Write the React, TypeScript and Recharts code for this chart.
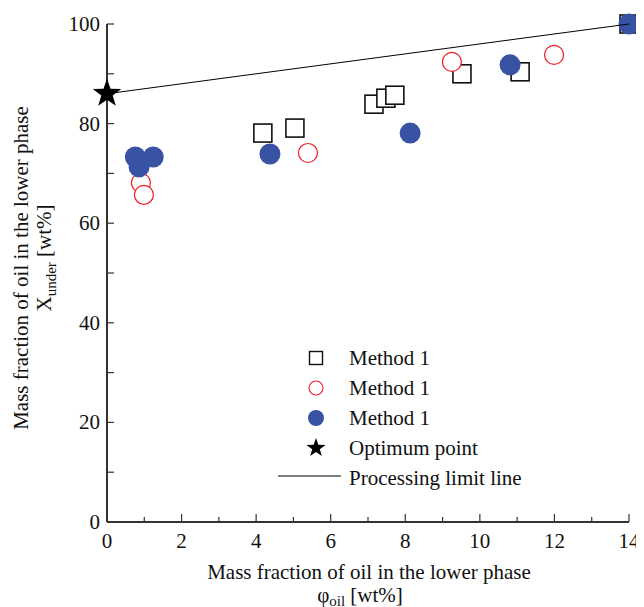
import React from 'react';
import { ScatterChart, Scatter, XAxis, YAxis } from 'recharts';

// measured points, x = oil fraction in feed, y = oil fraction in lower phase
const squareX = [4.18, 5.04, 7.16, 7.48, 7.72, 9.52, 11.08, 14];
const squareY = [78.1, 79.1, 83.9, 85.1, 85.7, 90.0, 90.4, 100];

const openCircleX = [0.91, 0.99, 5.39, 9.25, 11.99];
const openCircleY = [68.1, 65.7, 74.1, 92.4, 93.8];

const filledCircleX = [0.76, 0.86, 1.24, 4.37, 8.13, 10.81, 14];
const filledCircleY = [73.3, 71.3, 73.3, 73.9, 78.1, 91.8, 100];

const optimumX = [0];
const optimumY = [86];

const limitLineX = [0, 14];
const limitLineY = [86, 100];

const xTicks = [0, 1, 2, 3, 4, 5, 6, 7, 8, 9, 10, 11, 12, 13, 14];
const yTicks = [0, 10, 20, 30, 40, 50, 60, 70, 80, 90, 100];

const legendLabels = ['Method 1', 'Method 1', 'Method 1', 'Optimum point', 'Processing limit line'];

const toPoints = (xs: number[], ys: number[]) => xs.map((x, i) => ({ x, y: ys[i] }));

const FONT = '"Liberation Serif", "Times New Roman", serif';
const BLUE = '#3953a4';
const RED = '#ee1c25';
const AXIS = '#333';
const textStyle = { fontFamily: FONT };

const W = 636;
const H = 599;

const starPath = (cx: number, cy: number, outer: number, inner: number) => {
  const pts: string[] = [];
  for (let i = 0; i < 10; i++) {
    const r = i % 2 === 0 ? outer : inner;
    const a = -Math.PI / 2 + (i * Math.PI) / 5;
    pts.push(`${cx + r * Math.cos(a)},${cy + r * Math.sin(a)}`);
  }
  return `M${pts.join('L')}Z`;
};

const SquareShape = (props: any) => (
  <rect x={props.cx - 9} y={props.cy - 9} width={18} height={18} fill="#fff" stroke="#111" strokeWidth={1.6} />
);
const OpenCircleShape = (props: any) => (
  <circle cx={props.cx} cy={props.cy} r={9.5} fill="#fff" stroke={RED} strokeWidth={1.2} />
);
const FilledCircleShape = (props: any) => (
  <circle cx={props.cx} cy={props.cy} r={10.5} fill={BLUE} />
);
const StarShape = (props: any) => (
  <path d={starPath(props.cx, props.cy, 15, 6)} fill="#000" />
);
const NoShape = () => <g />;

// bottom ticks point inward, only even values get a label
const BottomTick = (props: any) => {
  const { x, y, payload } = props;
  const major = payload.value % 2 === 0;
  return (
    <g>
      <line x1={x} y1={y} x2={x} y2={y - (major ? 8 : 5)} stroke={AXIS} strokeWidth={1.2} />
      {major && (
        <text x={x} y={y + 26} textAnchor="middle" style={textStyle} fontFamily={FONT} fontSize={21} fill="#111">
          {payload.value}
        </text>
      )}
    </g>
  );
};

const LeftTick = (props: any) => {
  const { x, y, payload } = props;
  const major = payload.value % 20 === 0;
  return (
    <g>
      <line x1={x} y1={y} x2={x + 7} y2={y} stroke={AXIS} strokeWidth={1.2} />
      {major && (
        <text x={x - 7} y={y + 7} textAnchor="end" style={textStyle} fontFamily={FONT} fontSize={21} fill="#111">
          {payload.value}
        </text>
      )}
    </g>
  );
};

const TopTick = (props: any) => (
  <line x1={props.x} y1={props.y} x2={props.x} y2={props.y + 2} stroke={AXIS} strokeWidth={1} />
);
const RightTick = (props: any) => (
  <line x1={props.x} y1={props.y} x2={props.x - 2} y2={props.y} stroke={AXIS} strokeWidth={1} />
);

// legend drawn in chart pixel space
const LegendBox = () => {
  const rowY = (i: number) => 350 + i * 30;
  const sx = 308;
  return (
    <g>
      <rect x={sx - 6.5} y={rowY(0) - 6.5} width={13} height={13} fill="#fff" stroke="#111" strokeWidth={1.4} />
      <circle cx={sx} cy={rowY(1)} r={7} fill="#fff" stroke={RED} strokeWidth={1.1} />
      <circle cx={sx} cy={rowY(2)} r={8} fill={BLUE} />
      <path d={starPath(sx, rowY(3), 10, 4)} fill="#000" />
      <line x1={270} y1={rowY(4) - 2} x2={333} y2={rowY(4) - 2} stroke="#000" strokeWidth={1} />
      {legendLabels.map((label, i) => (
        <text key={i} x={341} y={rowY(i) + 7} style={textStyle} fontFamily={FONT} fontSize={21} fill="#111">
          {label}
        </text>
      ))}
    </g>
  );
};

export default function App() {
  return (
    <div style={{ position: 'relative', width: W, height: H, fontFamily: FONT }}>
      <ScatterChart width={W} height={H} margin={{ top: 16, right: 15, bottom: 0, left: 0 }}>
        <XAxis
          dataKey="x"
          type="number"
          domain={[0, 14]}
          ticks={xTicks}
          interval={0}
          height={85}
          tickLine={false}
          tickSize={0}
          tickMargin={0}
          tick={<BottomTick />}
          axisLine={{ stroke: AXIS, strokeWidth: 2 }}
        />
        <XAxis
          xAxisId="top"
          orientation="top"
          dataKey="x"
          type="number"
          domain={[0, 14]}
          ticks={xTicks}
          interval={0}
          height={0}
          tickLine={false}
          tickSize={0}
          tickMargin={0}
          tick={<TopTick />}
          axisLine={{ stroke: '#000', strokeWidth: 1.5 }}
        />
        <YAxis
          dataKey="y"
          type="number"
          domain={[0, 100]}
          ticks={yTicks}
          interval={0}
          width={99}
          tickLine={false}
          tickSize={0}
          tickMargin={0}
          tick={<LeftTick />}
          axisLine={{ stroke: AXIS, strokeWidth: 2 }}
        />
        <YAxis
          yAxisId="right"
          orientation="right"
          dataKey="y"
          type="number"
          domain={[0, 100]}
          ticks={yTicks}
          interval={0}
          width={0}
          tickLine={false}
          tickSize={0}
          tickMargin={0}
          tick={<RightTick />}
          axisLine={{ stroke: AXIS, strokeWidth: 1.5 }}
        />
        <Scatter data={toPoints(squareX, squareY)} shape={SquareShape} isAnimationActive={false} />
        <Scatter data={toPoints(openCircleX, openCircleY)} shape={OpenCircleShape} isAnimationActive={false} />
        <Scatter data={toPoints(filledCircleX, filledCircleY)} shape={FilledCircleShape} isAnimationActive={false} />
        <Scatter
          data={toPoints(limitLineX, limitLineY)}
          line={{ stroke: '#000', strokeWidth: 1 }}
          shape={NoShape}
          isAnimationActive={false}
        />
        <Scatter data={toPoints(optimumX, optimumY)} shape={StarShape} isAnimationActive={false} />
      </ScatterChart>

      {/* legend and axis titles */}
      <svg width={W} height={H} style={{ position: 'absolute', left: 0, top: 0, pointerEvents: 'none' }}>
        <LegendBox />
        <text x={361} y={571} textAnchor="middle" style={textStyle} fontSize={21} fill="#111">
          Mass fraction of oil in the lower phase
        </text>
        <text x={352} y={594} textAnchor="middle" style={textStyle} fontSize={21} fill="#111">
          φ<tspan fontSize={15} dy={4}>oil</tspan>
          <tspan dy={-4}> [wt%]</tspan>
        </text>
        <text
          transform="translate(20, 260) rotate(-90)"
          textAnchor="middle"
          style={textStyle}
          fontSize={21}
          fill="#111"
        >
          Mass fraction of oil in the lower phase
        </text>
        <text
          transform="translate(43, 250) rotate(-90)"
          textAnchor="middle"
          style={textStyle}
          fontSize={21}
          fill="#111"
        >
          X<tspan fontSize={15} dy={5}>under</tspan>
          <tspan dy={-5}> [wt%]</tspan>
        </text>
      </svg>
    </div>
  );
}
